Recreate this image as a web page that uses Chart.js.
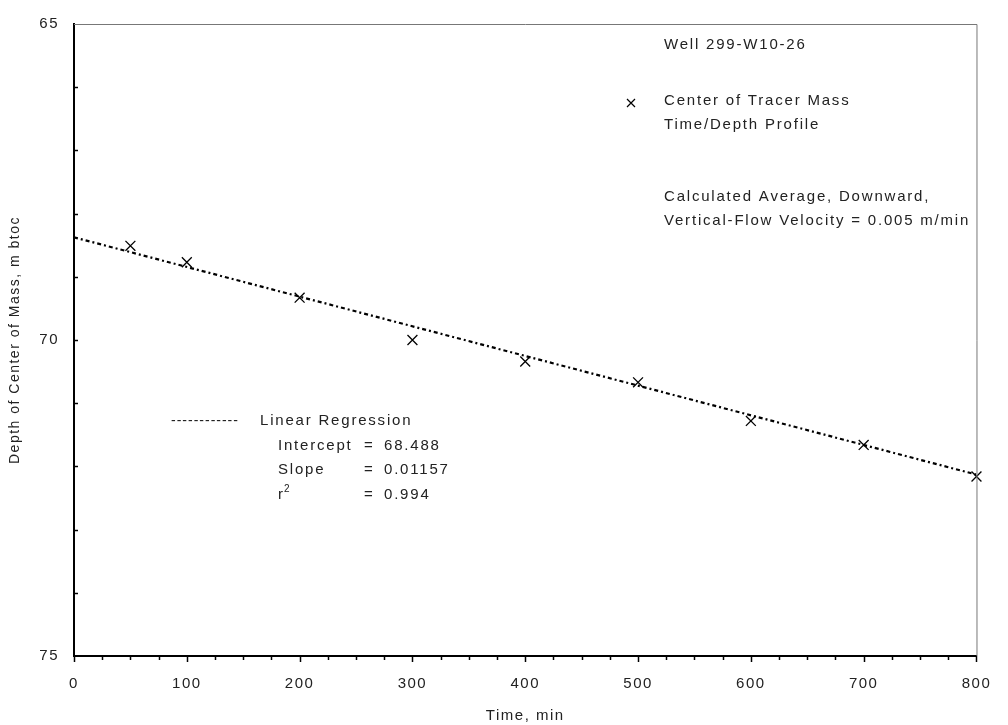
<!DOCTYPE html>
<html>
<head>
<meta charset="utf-8">
<script src="https://cdn.jsdelivr.net/npm/chart.js@4.4.1/dist/chart.umd.min.js"></script>
<style>
  html, body { margin: 0; padding: 0; background: #fff; }
  #wrap { width: 1008px; height: 725px; position: relative; }
</style>
</head>
<body>
<div id="wrap"><canvas id="chart"></canvas></div>
<script>
// measured center-of-mass points (time in min, depth in m btoc)
const times = [50, 100, 200, 300, 400, 500, 600, 700, 800];
const depths = [68.51, 68.77, 69.33, 70.0, 70.34, 70.67, 71.28, 71.66, 72.16];

// regression line as drawn
const fitTimes = [0, 800];
const fitDepths = [68.375, 72.13];

const yLabels = [65, 70, 75];
const xLabels = [0, 100, 200, 300, 400, 500, 600, 700, 800];

const FONT = "'Liberation Sans', Arial, sans-serif";
const TEXT = '#222';

// tick marks + frame + text notes drawn on top
const extras = {
  id: 'extras',
  beforeDraw(chart) {
    chart.ctx.letterSpacing = '1.5px';
  },
  afterDraw(chart) {
    const ctx = chart.ctx;
    const a = chart.chartArea;
    const xs = chart.scales.x, ys = chart.scales.y;
    ctx.save();
    // top / right frame
    ctx.strokeStyle = '#777';
    ctx.lineWidth = 1;
    ctx.beginPath();
    ctx.moveTo(a.left, a.top + 0.5);
    ctx.lineTo(a.right + 0.5, a.top + 0.5);
    ctx.lineTo(a.right + 0.5, a.bottom);
    ctx.stroke();

    // x ticks (outward)
    ctx.strokeStyle = '#000';
    ctx.lineWidth = 1.5;
    xs.ticks.forEach(t => {
      const px = Math.round(xs.getPixelForValue(t.value)) + 0.5;
      const len = t.value % 100 === 0 ? 6 : 4;
      ctx.beginPath();
      ctx.moveTo(px, a.bottom);
      ctx.lineTo(px, a.bottom + len);
      ctx.stroke();
    });
    // y ticks (inward)
    ys.ticks.forEach(t => {
      if (t.value === 65 || t.value === 75) return;
      const py = Math.round(ys.getPixelForValue(t.value)) + 0.5;
      ctx.beginPath();
      ctx.moveTo(a.left, py);
      ctx.lineTo(a.left + 4, py);
      ctx.stroke();
    });

    // notes
    ctx.fillStyle = TEXT;
    ctx.textBaseline = 'middle';
    ctx.textAlign = 'left';
    ctx.font = '15px ' + FONT;
    ctx.letterSpacing = '1.8px';
    ctx.fillText('Well 299-W10-26', 664, 45);
    ctx.fillText('Center of Tracer Mass', 664, 101);
    ctx.fillText('Time/Depth Profile', 664, 125);
    ctx.fillText('Calculated Average, Downward,', 664, 197);
    ctx.fillText('Vertical-Flow Velocity = 0.005 m/min', 664, 221);

    // x marker in the note
    ctx.strokeStyle = '#000';
    ctx.lineWidth = 1.2;
    ctx.beginPath();
    ctx.moveTo(627, 99); ctx.lineTo(635, 107);
    ctx.moveTo(635, 99); ctx.lineTo(627, 107);
    ctx.stroke();

    // regression legend
    ctx.font = '14px ' + FONT;
    ctx.letterSpacing = '1px';
    ctx.fillText('------------', 171, 421);
    ctx.font = '15px ' + FONT;
    ctx.letterSpacing = '1.8px';
    ctx.fillText('Linear Regression', 260, 421);
    ctx.fillText('Intercept', 278, 446);
    ctx.fillText('Slope', 278, 470);
    ctx.fillText('r', 278, 495);
    ctx.fillText('=', 364, 446);
    ctx.fillText('=', 364, 470);
    ctx.fillText('=', 364, 495);
    ctx.fillText('68.488', 384, 446);
    ctx.fillText('0.01157', 384, 470);
    ctx.fillText('0.994', 384, 495);
    ctx.font = '10px ' + FONT;
    ctx.letterSpacing = '0px';
    ctx.fillText('2', 284, 489);
    ctx.restore();
    ctx.letterSpacing = '0px';
  }
};

new Chart(document.getElementById('chart'), {
  type: 'scatter',
  data: {
    datasets: [
      {
        label: 'Center of Tracer Mass',
        data: times.map((t, i) => ({ x: t, y: depths[i] })),
        pointStyle: 'crossRot',
        pointRadius: 7,
        pointBorderWidth: 1.3,
        borderColor: '#000',
        backgroundColor: '#000',
        showLine: false,
        clip: false
      },
      {
        label: 'Linear Regression',
        data: fitTimes.map((t, i) => ({ x: t, y: fitDepths[i] })),
        showLine: true,
        pointRadius: 0,
        borderColor: '#000',
        borderWidth: 2.2,
        borderDash: [4, 3, 2, 3]
      }
    ]
  },
  options: {
    responsive: true,
    maintainAspectRatio: false,
    animation: false,
    devicePixelRatio: 1,
    layout: { padding: { top: 19, right: 16, left: 0, bottom: 0 } },
    plugins: { legend: { display: false }, tooltip: { enabled: false } },
    scales: {
      x: {
        type: 'linear',
        min: 0,
        max: 800,
        afterFit(scale) { scale.height = 69; },
        ticks: {
          stepSize: 25,
          autoSkip: false,
          maxRotation: 0,
          padding: 19,
          color: TEXT,
          font: { family: FONT, size: 15 },
          callback: v => xLabels.includes(v) ? String(v) : ''
        },
        grid: { drawOnChartArea: false, drawTicks: false },
        border: { display: true, color: '#000', width: 2 },
        title: {
          display: true,
          text: 'Time, min',
          color: TEXT,
          font: { family: FONT, size: 15 },
          padding: { top: 0, bottom: 0 }
        }
      },
      y: {
        type: 'linear',
        reverse: true,
        min: 65,
        max: 75,
        afterFit(scale) { scale.width = 74; },
        ticks: {
          stepSize: 1,
          autoSkip: false,
          padding: 15,
          color: TEXT,
          font: { family: FONT, size: 15 },
          callback: v => yLabels.includes(v) ? String(v) : ''
        },
        grid: { drawOnChartArea: false, drawTicks: false },
        border: { display: true, color: '#000', width: 2 },
        title: {
          display: true,
          text: 'Depth of Center of Mass, m btoc',
          color: TEXT,
          font: { family: FONT, size: 14 },
          padding: { top: 7, bottom: 0 }
        }
      }
    }
  },
  plugins: [extras]
});
</script>
</body>
</html>
